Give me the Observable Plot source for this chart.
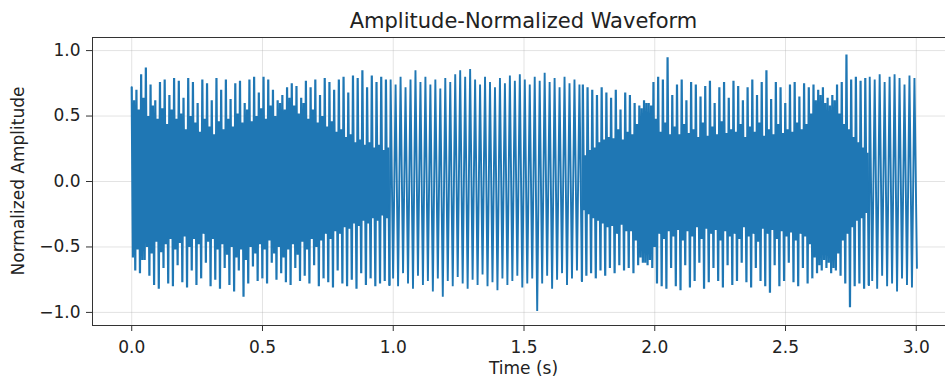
<!DOCTYPE html>
<html>
<head>
<meta charset="utf-8">
<script src="https://cdn.jsdelivr.net/npm/d3@7"></script>
<script src="https://cdn.jsdelivr.net/npm/@observablehq/plot@0.6"></script>
<style>
  html, body { margin: 0; padding: 0; background: #fff; overflow: hidden; }
  #chart { width: 945px; height: 380px; overflow: hidden; }
  #chart svg { max-width: none !important; }
</style>
</head>
<body>
<div id="chart"></div>
<script>
// Tick labels
const xTicks = [0, 0.5, 1.0, 1.5, 2.0, 2.5, 3.0];
const yTicks = [-1.0, -0.5, 0.0, 0.5, 1.0];

// ---- Waveform values ----
// Dense parts: one fundamental period = tall max, inner min, inner max, tall min.
// Segment A: 0.000 s – 0.985 s, period 0.018 s
const aStart = 0.0, aPeriod = 0.018;
const aHi = [0.72,0.70,0.82,0.87,0.74,0.62,0.76,0.78,0.66,0.79,0.77,0.64,0.79,0.76,0.60,0.78,0.75,0.62,0.79,0.70,
  0.78,0.63,0.75,0.77,0.60,0.78,0.80,0.68,0.80,0.78,0.70,0.62,0.66,0.72,0.75,0.73,0.64,0.77,0.72,0.78,
  0.66,0.79,0.76,0.70,0.78,0.80,0.68,0.81,0.79,0.85,0.72,0.81,0.76,0.80,0.78];
const aInLo = [-0.58,-0.52,-0.60,-0.50,-0.55,-0.46,-0.54,-0.48,-0.44,-0.52,-0.47,-0.42,-0.50,-0.44,-0.48,-0.40,-0.46,-0.44,-0.52,-0.48,
  -0.56,-0.50,-0.58,-0.52,-0.60,-0.50,-0.55,-0.48,-0.52,-0.45,-0.55,-0.50,-0.58,-0.52,-0.48,-0.56,-0.46,-0.52,-0.44,-0.50,
  -0.45,-0.40,-0.44,-0.38,-0.40,-0.35,-0.36,-0.32,-0.34,-0.30,-0.32,-0.28,-0.30,-0.26,-0.28];
const aInHi = [0.62,0.55,0.64,0.50,0.58,0.48,0.56,0.44,0.55,0.48,0.52,0.40,0.50,0.45,0.38,0.48,0.42,0.36,0.46,0.40,
  0.48,0.42,0.52,0.45,0.55,0.46,0.50,0.56,0.48,0.58,0.50,0.60,0.55,0.64,0.58,0.52,0.60,0.48,0.55,0.45,
  0.50,0.42,0.46,0.38,0.40,0.34,0.36,0.30,0.32,0.28,0.30,0.26,0.28,0.24,0.26];
const aLo = [-0.68,-0.70,-0.60,-0.72,-0.79,-0.82,-0.66,-0.78,-0.80,-0.64,-0.77,-0.81,-0.68,-0.79,-0.74,-0.62,-0.80,-0.75,-0.82,-0.66,
  -0.79,-0.84,-0.68,-0.88,-0.78,-0.65,-0.76,-0.74,-0.78,-0.62,-0.75,-0.70,-0.77,-0.79,-0.66,-0.76,-0.72,-0.78,-0.64,-0.80,
  -0.74,-0.77,-0.81,-0.68,-0.78,-0.80,-0.75,-0.82,-0.70,-0.79,-0.74,-0.80,-0.78,-0.76,-0.79];

// Segment B (open): 0.99 s – 1.71 s, period 0.019 s, max then min
const bStart = 0.99, bPeriod = 0.019;
const bHi = [0.78,0.74,0.80,0.72,0.78,0.85,0.76,0.80,0.74,0.78,0.71,0.79,0.76,0.82,0.85,0.80,0.86,0.78,0.74,0.80,
  0.76,0.72,0.79,0.75,0.81,0.77,0.82,0.78,0.74,0.80,0.77,0.83,0.76,0.79,0.72,0.80,0.75,0.78,0.74];
const bLo = [-0.74,-0.80,-0.70,-0.78,-0.82,-0.72,-0.79,-0.76,-0.84,-0.74,-0.88,-0.76,-0.80,-0.73,-0.78,-0.82,-0.75,-0.79,-0.71,-0.80,
  -0.77,-0.83,-0.74,-0.79,-0.76,-0.72,-0.81,-0.78,-0.74,-0.99,-0.78,-0.72,-0.82,-0.75,-0.70,-0.79,-0.74,-0.68,-0.76];

// Segment C (dense): 1.725 s – 2.82 s, period 0.018 s
const cStart = 1.725, cPeriod = 0.018;
const cHi = [0.74,0.72,0.70,0.66,0.72,0.68,0.64,0.70,0.55,0.68,0.66,0.60,0.58,0.62,0.60,0.76,0.80,0.78,0.95,0.66,
  0.74,0.78,0.62,0.76,0.74,0.65,0.73,0.77,0.60,0.72,0.76,0.64,0.77,0.73,0.62,0.72,0.78,0.66,0.76,0.85,
  0.63,0.76,0.72,0.60,0.74,0.76,0.65,0.75,0.72,0.74,0.70,0.72,0.64,0.66,0.74,0.76,0.97,0.78,0.80,0.77,0.79];
const cInLo = [-0.22,-0.25,-0.28,-0.30,-0.32,-0.35,-0.34,-0.40,-0.33,-0.38,-0.38,-0.45,-0.58,-0.62,-0.60,-0.50,-0.40,-0.44,-0.38,-0.42,
  -0.37,-0.45,-0.38,-0.42,-0.35,-0.44,-0.36,-0.40,-0.37,-0.45,-0.38,-0.42,-0.40,-0.44,-0.35,-0.42,-0.40,-0.46,-0.36,-0.40,
  -0.37,-0.44,-0.38,-0.42,-0.39,-0.45,-0.40,-0.42,-0.48,-0.58,-0.64,-0.60,-0.62,-0.66,-0.55,-0.45,-0.40,-0.35,-0.30,-0.28,-0.24];
const cInHi = [0.20,0.24,0.26,0.30,0.32,0.34,0.33,0.40,0.32,0.38,0.36,0.44,0.56,0.60,0.58,0.48,0.38,0.45,0.36,0.42,
  0.36,0.44,0.37,0.40,0.34,0.45,0.35,0.42,0.36,0.46,0.37,0.40,0.38,0.44,0.34,0.42,0.38,0.45,0.35,0.40,
  0.36,0.44,0.37,0.40,0.38,0.45,0.40,0.44,0.52,0.62,0.66,0.60,0.58,0.62,0.52,0.44,0.40,0.34,0.30,0.26,0.22];
const cLo = [-0.72,-0.70,-0.74,-0.68,-0.72,-0.66,-0.70,-0.64,-0.68,-0.66,-0.70,-0.64,-0.62,-0.64,-0.66,-0.78,-0.80,-0.82,-0.66,-0.80,
  -0.83,-0.64,-0.81,-0.76,-0.62,-0.82,-0.77,-0.66,-0.76,-0.81,-0.64,-0.79,-0.76,-0.62,-0.77,-0.81,-0.66,-0.76,-0.80,-0.85,
  -0.64,-0.80,-0.76,-0.62,-0.77,-0.80,-0.66,-0.78,-0.74,-0.70,-0.68,-0.66,-0.70,-0.68,-0.72,-0.78,-0.96,-0.80,-0.78,-0.82,-0.79];

// Segment D (open): 2.822 s – 3.0 s, period 0.019 s
const dStart = 2.822, dPeriod = 0.019;
const dHi = [0.80,0.78,0.82,0.76,0.80,0.82,0.79,0.74,0.81,0.79];
const dLo = [-0.76,-0.82,-0.72,-0.80,-0.78,-0.84,-0.74,-0.79,-0.81,-0.66];

function densePts(start, period, hi, inLo, inHi, lo) {
  const out = [], h = period / 4;
  hi.forEach((_, i) => {
    const t0 = start + i * period;
    out.push({t: t0, v: hi[i]}, {t: t0 + h, v: inLo[i]}, {t: t0 + 2 * h, v: inHi[i]}, {t: t0 + 3 * h, v: lo[i]});
  });
  return out;
}
function openPts(start, period, hi, lo) {
  const out = [], h = period / 2;
  hi.forEach((_, i) => {
    const t0 = start + i * period;
    out.push({t: t0, v: hi[i]}, {t: t0 + h, v: lo[i]});
  });
  return out;
}
const segA = densePts(aStart, aPeriod, aHi, aInLo, aInHi, aLo);
const segB = openPts(bStart, bPeriod, bHi, bLo);
const segC = densePts(cStart, cPeriod, cHi, cInLo, cInHi, cLo);
const segD = openPts(dStart, dPeriod, dHi, dLo);
// join consecutive segments so the trace is continuous
const lineB = [segA[segA.length - 1], ...segB];
const lineC = [segB[segB.length - 1], ...segC];
const lineD = [segC[segC.length - 1], ...segD];

const fmt = d3.format(".1f");
const blue = "#1f77b4";
const lineOpts = (w) => ({x: "t", y: "v", stroke: blue, strokeWidth: w, strokeLinejoin: "miter", strokeMiterlimit: 2});
const chart = Plot.plot({
  width: 956,
  height: 380,
  marginLeft: 92,
  marginRight: 1,
  marginTop: 37,
  marginBottom: 55,
  style: {fontFamily: "DejaVu Sans, sans-serif", fontSize: "17px", color: "#222", background: "white", overflow: "visible", maxWidth: "none"},
  x: {domain: [-0.15, 3.15], label: null},
  y: {domain: [-1.1, 1.1], label: null},
  marks: [
    Plot.gridX(xTicks, {stroke: "#b0b0b0", strokeOpacity: 0.35, strokeWidth: 1}),
    Plot.gridY(yTicks, {stroke: "#b0b0b0", strokeOpacity: 0.35, strokeWidth: 1}),
    Plot.line(segA, lineOpts(2.2)),
    Plot.line(lineB, lineOpts(1.9)),
    Plot.line(lineC, lineOpts(2.2)),
    Plot.line(lineD, lineOpts(1.9)),
    Plot.frame({stroke: "#333", strokeWidth: 1}),
    Plot.axisX(xTicks, {tickSize: 6, tickPadding: 9, tickFormat: fmt, stroke: "#333"}),
    Plot.axisY(yTicks, {tickSize: 6, tickPadding: 6, tickFormat: fmt, stroke: "#333"})
  ]
});

const svg = d3.select(chart);
svg.append("text").attr("x", 523.5).attr("y", 28).attr("text-anchor", "middle")
  .attr("font-size", 21).attr("fill", "#222").text("Amplitude-Normalized Waveform");
svg.append("text").attr("x", 523.5).attr("y", 374).attr("text-anchor", "middle")
  .attr("font-size", 17).attr("fill", "#222").text("Time (s)");
svg.append("text").attr("transform", "translate(24,181) rotate(-90)").attr("text-anchor", "middle")
  .attr("font-size", 17).attr("fill", "#222").text("Normalized Amplitude");

document.getElementById("chart").appendChild(chart);
</script>
</body>
</html>
